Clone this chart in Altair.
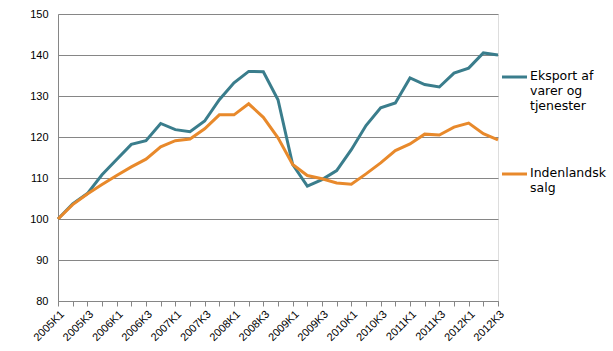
import altair as alt
import pandas as pd

quarters = [f"{y}K{q}" for y in range(2005, 2013) for q in range(1, 5)][:31]

eksport = [100, 103.7, 106.2, 110.8, 114.5, 118.2, 119.1, 123.3, 121.8, 121.3,
           123.9, 129.1, 133.2, 136.0, 135.9, 129.1, 113.3, 108.0, 109.6, 111.8,
           116.9, 122.8, 127.1, 128.3, 134.4, 132.8, 132.2, 135.6, 136.8, 140.5, 140.0]
indenlandsk = [100, 103.5, 106.1, 108.4, 110.6, 112.7, 114.6, 117.6, 119.1, 119.5,
               122.0, 125.4, 125.4, 128.1, 124.8, 119.8, 113.3, 110.6, 109.8, 108.8,
               108.5, 111.0, 113.7, 116.7, 118.3, 120.7, 120.5, 122.4, 123.4, 120.8, 119.3]

series_names = ["Eksport af varer og tjenester", "Indenlandsk salg"]
legend_lines = ["Eksport af\nvarer og\ntjenester", "Indenlandsk\nsalg"]
colors = ["#3a7d8c", "#e8892b"]

df = pd.concat([
    pd.DataFrame({"kvartal": quarters, "verdi": eksport, "serie": series_names[0]}),
    pd.DataFrame({"kvartal": quarters, "verdi": indenlandsk, "serie": series_names[1]}),
])

W, H = 440, 287

base = alt.Chart(df).mark_line(strokeWidth=3, clip=False).encode(
    x=alt.X("kvartal:N", sort=quarters, title=None,
            scale=alt.Scale(type="point", padding=0),
            axis=alt.Axis(labelAngle=-45, labelFont="Liberation Sans", labelFontSize=11,
                          labelColor="black", domainColor="#868686", tickColor="#868686",
                          tickSize=5, labelPadding=2, grid=False,
                          labelExpr="test(/K[13]$/, datum.value) ? datum.value : ''")),
    y=alt.Y("verdi:Q", title=None,
            scale=alt.Scale(domain=[80, 150], nice=False, zero=False),
            axis=alt.Axis(values=list(range(80, 151, 10)), labelFont="Liberation Sans",
                          labelFontSize=11, labelColor="black", ticks=False, labelPadding=10,
                          domainColor="#868686", gridColor="#868686", gridWidth=1, grid=True)),
    color=alt.Color("serie:N", scale=alt.Scale(domain=series_names, range=colors), legend=None),
)

layers = [base]
leg_y = [63, 160]
for name, text, col, yy in zip(series_names, legend_lines, colors, leg_y):
    one = pd.DataFrame({"serie": [name], "label": [text]})
    layers.append(alt.Chart(one).mark_rule(color=col, strokeWidth=3).encode(
        x=alt.value(444), x2=alt.value(469), y=alt.value(yy)))
    layers.append(alt.Chart(one).mark_text(align="left", baseline="top", font="DejaVu Sans",
                                           fontSize=12.5, lineBreak="\n", lineHeight=15,
                                           color="black").encode(
        x=alt.value(472), y=alt.value(yy - 7), text="label:N"))

chart = alt.layer(*layers).properties(
    width=W, height=H,
    autosize=alt.AutoSizeParams(type="none"),
    padding={"left": 58, "top": 14, "right": 115, "bottom": 50},
).configure_view(stroke=None).configure(background="white")

chart.save("out.html", embed_options={"renderer": "svg", "actions": False})
